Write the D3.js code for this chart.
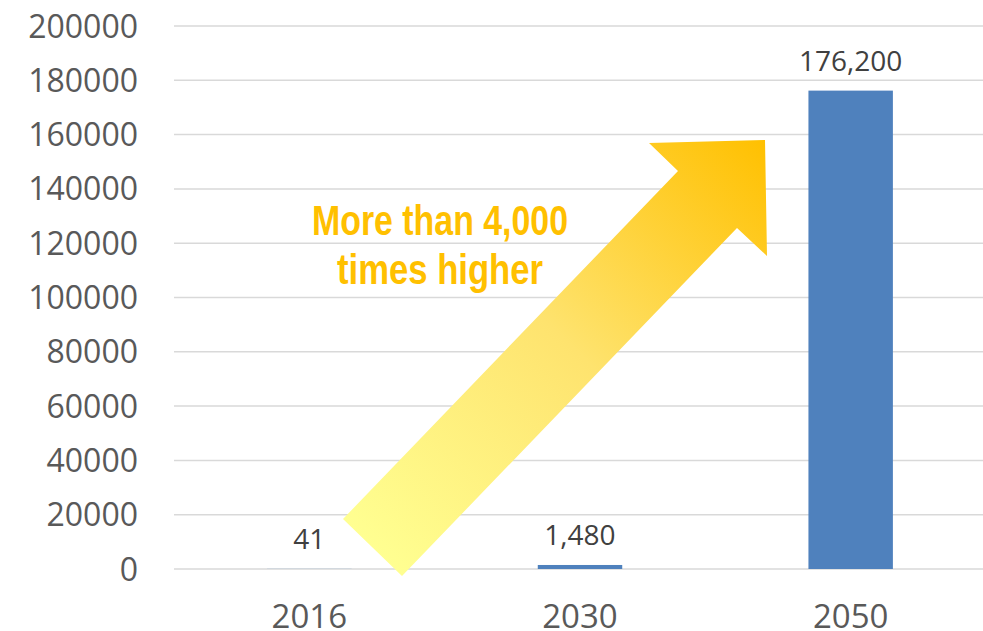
<!DOCTYPE html>
<html>
<head>
<meta charset="utf-8">
<script src="https://cdn.jsdelivr.net/npm/d3@7"></script>
<style>
  html, body { margin: 0; padding: 0; background: #fff; }
  svg { display: block; }
</style>
</head>
<body>
<script>
// data
const years = ['2016', '2030', '2050'];
const values = [41, 1480, 176200];
const valueLabels = ['41', '1,480', '176,200'];
const yTicks = [0, 20000, 40000, 60000, 80000, 100000, 120000, 140000, 160000, 180000, 200000];
const noteLines = ['More than 4,000', 'times higher'];

const W = 983, H = 631;
const margin = { top: 26, right: -3, bottom: 62, left: 174 },
  width = W - margin.left - margin.right,
  height = H - margin.top - margin.bottom;

const svg = d3.select('body')
  .append('svg')
  .attr('width', W)
  .attr('height', H);

const g = svg.append('g')
  .attr('transform', 'translate(' + margin.left + ',' + margin.top + ')');

const x = d3.scaleBand()
  .domain(years)
  .range([0, width])
  .paddingInner(0.688)
  .paddingOuter(0.344);

const y = d3.scaleLinear()
  .domain([0, 200000])
  .range([height, 0]);

// gridlines
g.selectAll('.grid')
  .data(yTicks)
  .enter()
  .append('line')
  .attr('x1', 0)
  .attr('x2', width)
  .attr('y1', d => y(d))
  .attr('y2', d => y(d))
  .attr('stroke', '#d9d9d9')
  .attr('stroke-width', 1.5);

// y tick labels
g.selectAll('.ylab')
  .data(yTicks)
  .enter()
  .append('text')
  .attr('x', -36)
  .attr('y', d => y(d))
  .attr('dy', '0.36em')
  .attr('text-anchor', 'end')
  .attr('font-family', 'Open Sans, sans-serif')
  .attr('font-size', 32)
  .attr('fill', '#595959')
  .text(d => d);

// x labels
g.selectAll('.xlab')
  .data(years)
  .enter()
  .append('text')
  .attr('x', d => x(d) + x.bandwidth() / 2)
  .attr('y', height + 59)
  .attr('text-anchor', 'middle')
  .attr('font-family', 'Open Sans, sans-serif')
  .attr('font-size', 33)
  .attr('fill', '#595959')
  .text(d => d);

// bars
g.selectAll('.bar')
  .data(values)
  .enter()
  .append('rect')
  .attr('x', (d, i) => x(years[i]))
  .attr('width', x.bandwidth())
  .attr('y', d => y(d))
  .attr('height', d => height - y(d))
  .attr('fill', '#4f81bd');

// value labels
g.selectAll('.vlab')
  .data(values)
  .enter()
  .append('text')
  .attr('x', (d, i) => x(years[i]) + x.bandwidth() / 2)
  .attr('y', d => y(d) - 20)
  .attr('text-anchor', 'middle')
  .attr('font-family', 'Open Sans, sans-serif')
  .attr('font-size', 28)
  .attr('fill', '#404040')
  .text((d, i) => valueLabels[i]);

// arrow annotation (shape only, not data)
const defs = svg.append('defs');
const grad = defs.append('linearGradient')
  .attr('id', 'arrowGrad')
  .attr('gradientUnits', 'userSpaceOnUse')
  .attr('x1', 372).attr('y1', 548)
  .attr('x2', 766).attr('y2', 140);
grad.append('stop').attr('offset', 0).attr('stop-color', '#ffff91');
grad.append('stop').attr('offset', 0.5).attr('stop-color', '#fee36e');
grad.append('stop').attr('offset', 1).attr('stop-color', '#ffc000');

const arrowPts = [
  [343, 519], [678, 171], [649, 143], [765, 140],
  [767, 256], [737, 228], [402, 576]
];
svg.append('path')
  .attr('d', d3.line()(arrowPts) + 'Z')
  .attr('fill', 'url(#arrowGrad)');

// note text
svg.selectAll('.note')
  .data(noteLines)
  .enter()
  .append('text')
  .attr('x', 440)
  .attr('y', (d, i) => 235 + i * 49)
  .attr('text-anchor', 'middle')
  .attr('font-family', 'Liberation Sans Narrow, Liberation Sans, Arial, sans-serif')
  .attr('font-weight', 'bold')
  .attr('font-size', 42)
  .attr('fill', '#ffc000')
  .attr('textLength', (d, i) => i === 0 ? 256 : 206)
  .attr('lengthAdjust', 'spacingAndGlyphs')
  .text(d => d);
</script>
</body>
</html>
